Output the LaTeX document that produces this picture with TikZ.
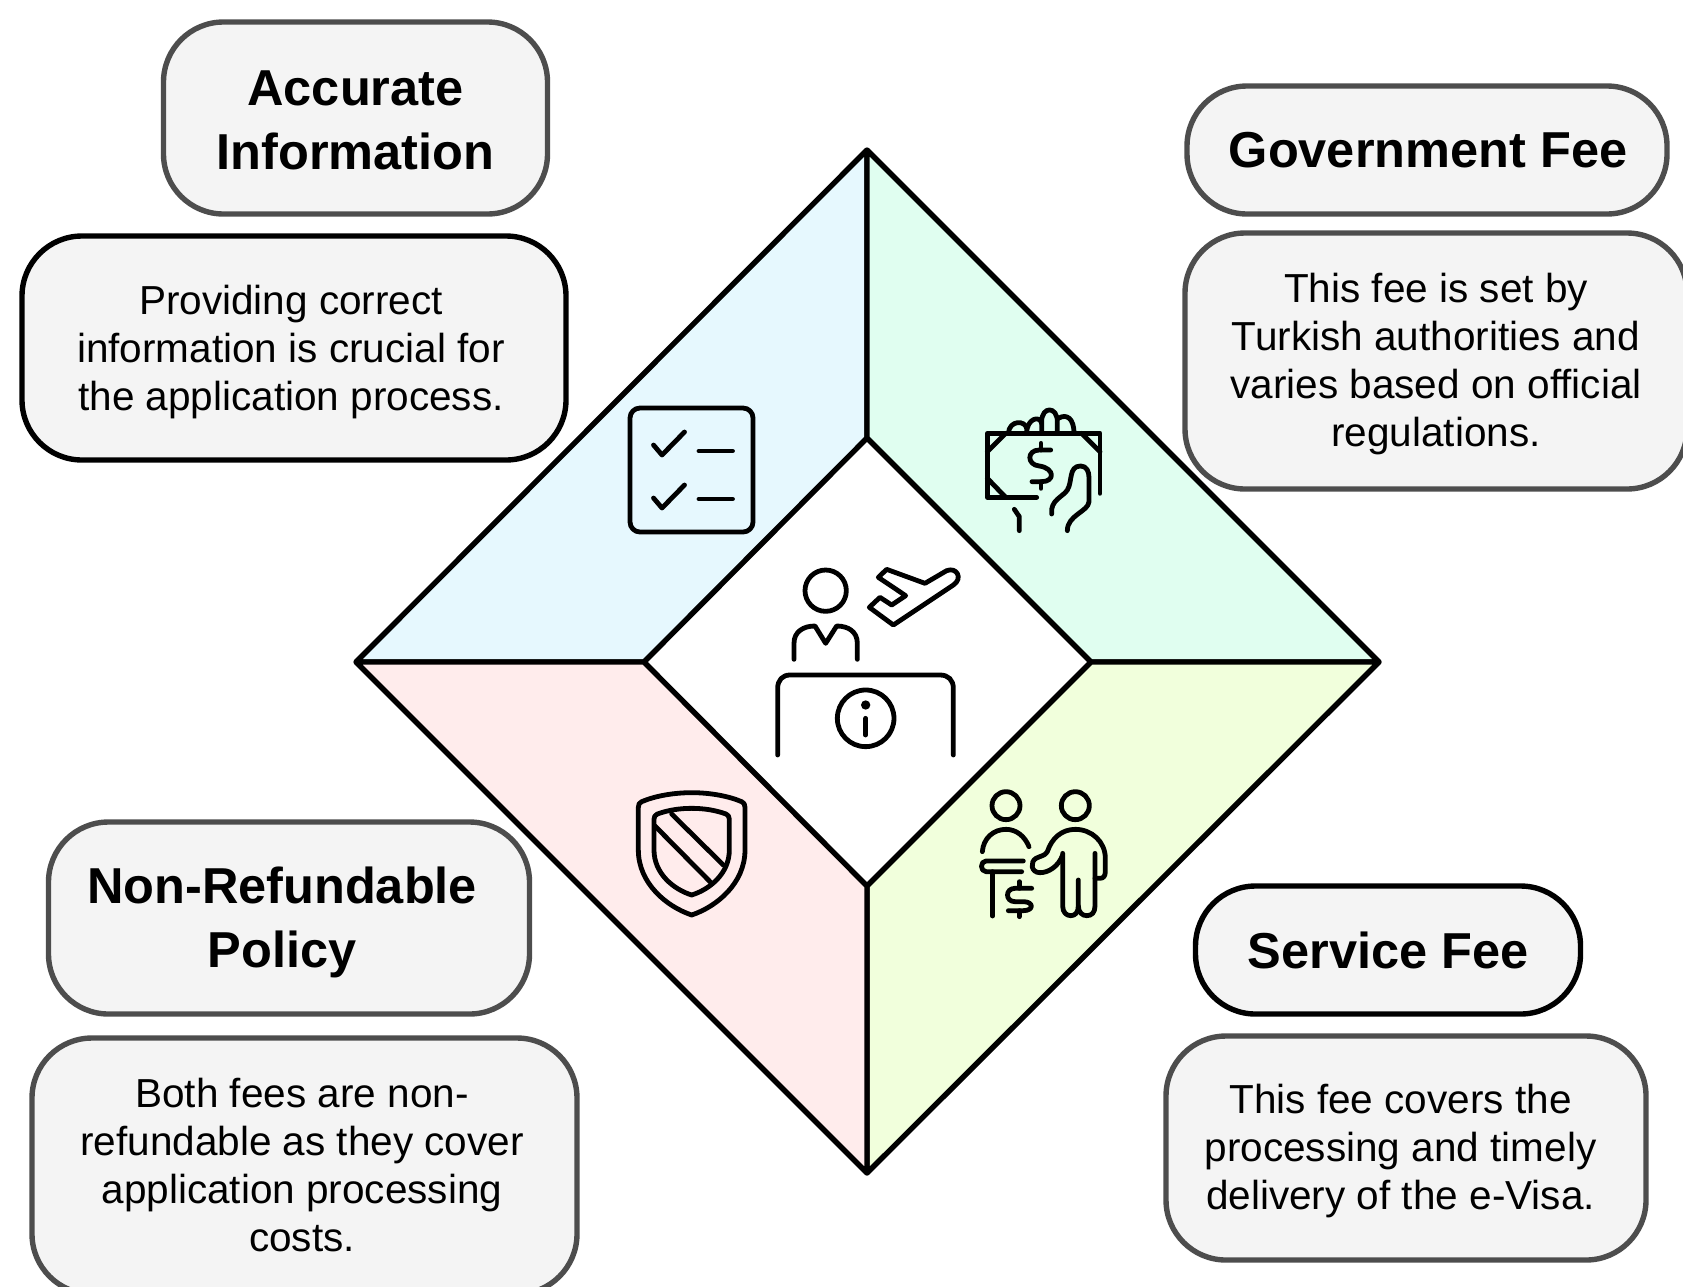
\documentclass[tikz,border=0pt]{standalone}
\usepackage{fontspec}
\setmainfont{Liberation Sans}
\definecolor{boxgray}{HTML}{F4F4F4}
\definecolor{edgegray}{HTML}{4D4D4D}
\definecolor{paleblue}{HTML}{E6F8FE}
\definecolor{palegreen}{HTML}{E0FEF0}
\definecolor{palered}{HTML}{FFECEC}
\definecolor{palelime}{HTML}{F1FFDC}
\begin{document}
\begin{tikzpicture}[x=1pt, y=-1pt,
    feebox/.style={draw=edgegray, fill=boxgray, line width=5.4pt, rounded corners=60pt},
    titletext/.style={align=center, inner sep=0pt, font=\fontsize{50.5}{64}\selectfont\bfseries},
    desctext/.style={align=center, inner sep=0pt, font=\fontsize{40.5}{48}\selectfont},
    wedge/.style={draw=black, line width=5.4pt, line join=round},
    icon/.style={draw=black, line width=4.8pt, line cap=round, line join=round}]
  \useasboundingbox (0, 0) rectangle (1683, 1286);
  \coordinate (T) at (867, 150);
  \coordinate (R) at (1379, 662);
  \coordinate (B) at (867, 1173);
  \coordinate (L) at (356, 662);
  \coordinate (IT) at (867, 438);
  \coordinate (IR) at (1091, 662);
  \coordinate (IB) at (867, 886);
  \coordinate (IL) at (644, 662);
  \draw[wedge, fill=paleblue] (T) -- (IT) -- (IL) -- (L) -- cycle;
  \draw[wedge, fill=palegreen] (T) -- (R) -- (IR) -- (IT) -- cycle;
  \draw[wedge, fill=palelime] (R) -- (B) -- (IB) -- (IR) -- cycle;
  \draw[wedge, fill=palered] (B) -- (L) -- (IL) -- (IB) -- cycle;

  \node[feebox, minimum width=384pt, minimum height=192pt] (accuratebox) at (355.5, 118) {};
  \node[titletext] (accuratetitle) at (355.5, 120) {Accurate\\Information};
  \node[feebox, draw=black, minimum width=544pt, minimum height=224pt] (accuratedesc) at (294, 348) {};
  \node[desctext] (accuratetext) at (291, 352) {Providing correct\\information is crucial for\\the application process.};

  \node[feebox, minimum width=480pt, minimum height=128pt] (govbox) at (1427, 150) {};
  \node[titletext] (govtitle) at (1428, 150) {Government Fee};
  \node[feebox, minimum width=502pt, minimum height=256pt] (govdesc) at (1436, 361) {};
  \node[desctext] (govtext) at (1436, 364) {This fee is set by\\Turkish authorities and\\varies based on official\\regulations.};

  \node[feebox, minimum width=481pt, minimum height=192pt] (refundbox) at (289, 918) {};
  \node[titletext] (refundtitle) at (282, 922) {Non-Refundable\\Policy};
  \node[feebox, minimum width=545pt, minimum height=256pt] (refunddesc) at (304.5, 1166) {};
  \node[desctext] (refundtext) at (302, 1165) {Both fees are non-\\refundable as they cover\\application processing\\costs.};

  \node[feebox, draw=black, minimum width=385pt, minimum height=128pt] (servicebox) at (1388, 950) {};
  \node[titletext] (servicetitle) at (1388, 950) {Service Fee};
  \node[feebox, minimum width=480pt, minimum height=224pt] (servicedesc) at (1406, 1148) {};
  \node[desctext] (servicetext) at (1400.5, 1151) {This fee covers the\\processing and timely\\delivery of the e-Visa.};

  \draw[icon, rounded corners=10pt] (630, 408) rectangle (753, 532);
  \draw[icon] (653.5, 445) -- (662, 455) -- (684.5, 432);
  \draw[icon] (699, 451) -- (732.5, 451);
  \draw[icon] (653.5, 498) -- (662, 508) -- (684.5, 485);
  \draw[icon] (699, 499) -- (732.5, 499);

  \begin{scope}[shift={(960, 390)}, scale=0.3333]
    \draw[icon] (420, 310) -- (420, 130) -- (82, 130) -- (82, 322) -- (230, 322);
    \draw[icon] (137, 130) -- (82, 185);
    \draw[icon] (82, 265) -- (137, 322);
    \draw[icon] (365, 130) -- (420, 185);
    \draw[icon] (272, 180) -- (238, 180) .. controls (200, 180) and (200, 225) .. (238, 228) .. controls (285, 235) and (285, 275) .. (245, 275) -- (216, 275);
    \draw[icon] (243, 160) -- (243, 180);
    \draw[icon] (243, 275) -- (243, 295);
    \draw[icon] (145, 130) .. controls (148, 90) and (195, 90) .. (200, 115);
    \draw[icon] (200, 130) .. controls (200, 85) and (240, 75) .. (245, 100);
    \draw[icon] (245, 130) -- (245, 95) .. controls (245, 48) and (292, 48) .. (292, 95) -- (292, 130);
    \draw[icon] (295, 85) .. controls (320, 70) and (342, 85) .. (342, 130);
    \draw[icon] (275, 372) .. controls (270, 330) and (310, 320) .. (322, 300) .. controls (338, 275) and (325, 228) .. (362, 228) .. controls (380, 228) and (387, 245) .. (387, 262) -- (387, 335) .. controls (385, 365) and (322, 375) .. (322, 422);
    \draw[icon] (163, 358) -- (178, 380) -- (178, 422);
  \end{scope}

  \begin{scope}[shift={(740, 550)}, scale=0.3333]
    \draw[icon] (257, 122) circle (62);
    \draw[icon] (162, 328) -- (162, 280) .. controls (162, 245) and (190, 228) .. (225, 228) -- (257, 280) -- (290, 228) .. controls (325, 228) and (352, 245) .. (352, 280) -- (352, 328);
    \draw[icon] (113, 615) -- (113, 415) .. controls (113, 390) and (128, 375) .. (150, 375) -- (600, 375) .. controls (625, 375) and (640, 390) .. (640, 415) -- (640, 615);
    \draw[icon] (377, 505) circle (85);
    \fill (377, 465) circle (14);
    \draw[icon] (377, 505) -- (377, 555);
    \draw[icon] (415, 82) -- (440, 58) -- (555, 100) -- (620, 62) .. controls (650, 50) and (670, 85) .. (640, 105) -- (460, 225) -- (388, 172) -- (420, 142) -- (455, 165) -- (497, 137) -- cycle;
  \end{scope}

  \begin{scope}[shift={(620, 770)}, scale=0.3333]
    \draw[icon] (215, 68) .. controls (160, 68) and (105, 78) .. (65, 95) .. controls (58, 98) and (55, 103) .. (55, 112) -- (55, 240) .. controls (55, 340) and (140, 410) .. (215, 435) .. controls (290, 410) and (375, 340) .. (375, 240) -- (375, 112) .. controls (375, 103) and (372, 98) .. (365, 95) .. controls (325, 78) and (270, 68) .. (215, 68) -- cycle;
    \draw[icon] (215, 115) .. controls (180, 115) and (145, 120) .. (112, 132) .. controls (105, 135) and (102, 140) .. (102, 148) -- (102, 240) .. controls (102, 310) and (160, 358) .. (215, 375) .. controls (270, 358) and (328, 310) .. (328, 240) -- (328, 148) .. controls (328, 140) and (325, 135) .. (318, 132) .. controls (285, 120) and (250, 115) .. (215, 115) -- cycle;
    \draw[icon] (155, 132) -- (310, 285);
    \draw[icon] (105, 168) -- (275, 340);
  \end{scope}

  \begin{scope}[shift={(960, 780)}, scale=0.3333]
    \draw[icon] (138, 77) circle (42);
    \draw[icon] (346, 77) circle (42);
    \draw[icon] (67, 215) .. controls (70, 175) and (100, 148) .. (138, 148) .. controls (170, 148) and (195, 170) .. (207, 200);
    \draw[icon] (190, 243) -- (78, 243) .. controls (60, 243) and (60, 275) .. (78, 275) -- (185, 275);
    \draw[icon] (98, 275) -- (98, 408);
    \draw[icon] (215, 325) -- (165, 325) .. controls (135, 325) and (135, 365) .. (165, 365) -- (190, 365) .. controls (222, 365) and (222, 392) .. (190, 392) -- (145, 392);
    \draw[icon] (178, 305) -- (178, 325);
    \draw[icon] (178, 392) -- (178, 410);
    \draw[icon] (405, 295) -- (420, 295) .. controls (430, 295) and (436, 288) .. (436, 275) -- (436, 235) .. controls (436, 185) and (395, 148) .. (346, 148) .. controls (305, 148) and (275, 175) .. (262, 215) .. controls (255, 228) and (240, 228) .. (228, 235) .. controls (210, 245) and (212, 278) .. (240, 278) .. controls (265, 278) and (295, 260) .. (308, 225);
    \draw[icon] (308, 220) -- (308, 378) .. controls (308, 398) and (320, 407) .. (332, 407) .. controls (345, 407) and (355, 398) .. (355, 378) -- (355, 300);
    \draw[icon] (355, 378) .. controls (355, 398) and (368, 407) .. (380, 407) .. controls (395, 407) and (405, 398) .. (405, 378) -- (405, 220);
  \end{scope}
\end{tikzpicture}
\end{document}
